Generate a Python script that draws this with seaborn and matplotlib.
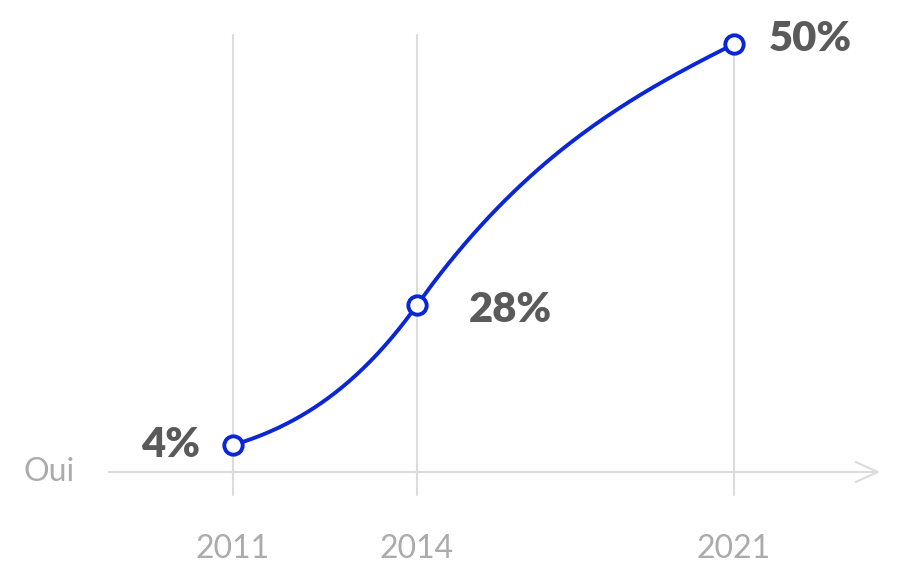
import numpy as np
import matplotlib
matplotlib.use("Agg")
import matplotlib.pyplot as plt
import matplotlib.transforms as mtransforms
from matplotlib.scale import FuncScale
import seaborn as sns

# data
years = [2011, 2014, 2021]
share = [4, 28, 50]
value_labels = ["4%", "28%", "50%"]
year_labels = ["2011", "2014", "2021"]
row_label = "Oui"

sns.set_theme(style="white")
plt.rcParams["font.family"] = ["Lato", "DejaVu Sans"]

W, H = 922, 574
BLUE = "#0a26d6"
GRID = "#dcdcdc"
TEXT_DARK = "#5a5a5a"
TEXT_LIGHT = "#ababab"


def piecewise(src, dst):
    """Piecewise-linear mapping with linear extrapolation at both ends."""
    src = np.asarray(src, float)
    dst = np.asarray(dst, float)
    s0 = (dst[1] - dst[0]) / (src[1] - src[0])
    s1 = (dst[-1] - dst[-2]) / (src[-1] - src[-2])

    def f(v):
        v = np.asarray(v, float)
        out = np.interp(v, src, dst)
        out = np.where(v < src[0], dst[0] + (v - src[0]) * s0, out)
        out = np.where(v > src[-1], dst[-1] + (v - src[-1]) * s1, out)
        return out
    return f


def hermite_curve(px, py, slopes, steps=80):
    """Cubic Hermite curve y(x) through the points with given end/mid slopes."""
    xs, ys = [], []
    t = np.linspace(0, 1, steps)
    h00 = 2 * t**3 - 3 * t**2 + 1
    h10 = t**3 - 2 * t**2 + t
    h01 = -2 * t**3 + 3 * t**2
    h11 = t**3 - t**2
    for i in range(len(px) - 1):
        h = px[i + 1] - px[i]
        xs.append(px[i] + t * h)
        ys.append(h00 * py[i] + h10 * h * slopes[i]
                  + h01 * py[i + 1] + h11 * h * slopes[i + 1])
    return np.concatenate(xs), np.concatenate(ys)


# the chart places its points on a non-uniform layout scale
# (forward space = axes fraction, since the axes fills the figure)
x_fwd = piecewise(years, [0.2527, 0.4523, 0.7961])
x_inv = piecewise([0.2527, 0.4523, 0.7961], years)
y_fwd = piecewise([0] + share, [0.1777, 0.2247, 0.4686, 0.9233])
y_inv = piecewise([0.1777, 0.2247, 0.4686, 0.9233], [0] + share)

fig = plt.figure(figsize=(W / 100, H / 100), dpi=100)
ax = fig.add_axes([0, 0, 1, 1])
ax.set_xscale(FuncScale(ax.xaxis, (x_fwd, x_inv)))
ax.set_yscale(FuncScale(ax.yaxis, (y_fwd, y_inv)))
ax.set_xlim(float(x_inv(0.0)), float(x_inv(1.0)))
ax.set_ylim(float(y_inv(0.0)), float(y_inv(1.0)))
ax.axis("off")

# vertical guides
for yr in years:
    ax.axvline(yr, ymin=0.1376, ymax=0.939, color=GRID, lw=1.5, zorder=1)

# baseline with open arrow head
base = float(y_fwd(0))
ax.plot([0.117, 0.952], [base, base], color=GRID, lw=1.5,
        transform=ax.transAxes, zorder=1, solid_capstyle="butt")
ax.plot([0.952 - 22 / W, 0.952, 0.952 - 22 / W],
        [base + 10 / H, base, base - 10 / H],
        color=GRID, lw=1.5, transform=ax.transAxes, zorder=1)

# smooth curve through the points (shape of the line: gentle at the ends,
# steep around the middle point), built in pixel space
px = x_fwd(years) * W
py = y_fwd(share) * H
cx, cy = hermite_curve(px, py, slopes=[0.3, 1.4, 0.5])
ax.plot(cx / W, cy / H, color=BLUE, lw=2.8, zorder=3, transform=ax.transAxes,
        solid_capstyle="round")
sns.scatterplot(x=years, y=share, ax=ax, s=175, color="white",
                edgecolor=BLUE, linewidth=2.8, zorder=4, legend=False)

# value labels
label_style = {
    "4%": dict(xytext=(-33, 4), ha="right"),
    "28%": dict(xytext=(52, -1), ha="left"),
    "50%": dict(xytext=(35, 9), ha="left"),
}
for yr, val, lab in zip(years, share, value_labels):
    st = label_style[lab]
    ax.annotate(lab, (yr, val), xytext=st["xytext"], textcoords="offset pixels",
                ha=st["ha"], va="center_baseline", fontsize=30,
                fontweight="heavy", color=TEXT_DARK, zorder=5)

# year labels under the axis
xtrans = mtransforms.blended_transform_factory(ax.transData, ax.transAxes)
for yr, lab in zip(years, year_labels):
    ax.text(yr, 0.0488, lab, transform=xtrans, ha="center", va="center_baseline",
            fontsize=23, color=TEXT_LIGHT)

ytrans = mtransforms.blended_transform_factory(ax.transAxes, ax.transData)
ax.text(0.026, 0.4, row_label, transform=ytrans, ha="left", va="center_baseline",
        fontsize=23, color=TEXT_LIGHT)

fig.savefig("out.png", dpi=100)
